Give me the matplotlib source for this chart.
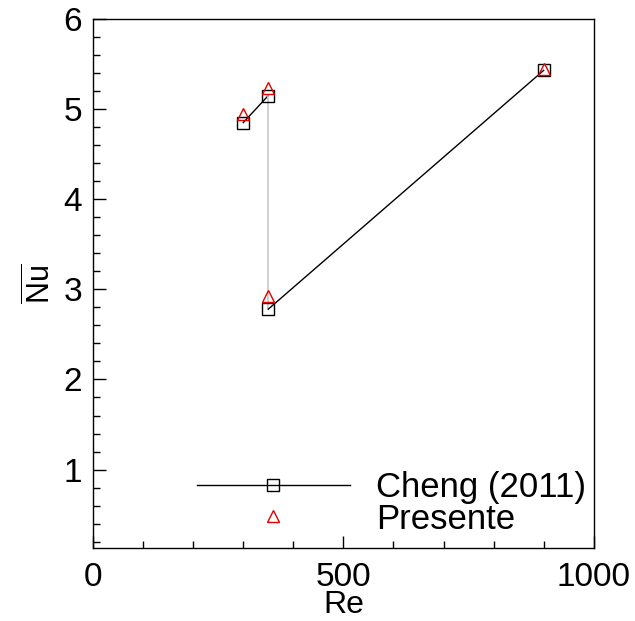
import matplotlib
matplotlib.use("Agg")
import matplotlib.pyplot as plt
from matplotlib.ticker import MultipleLocator
from matplotlib.lines import Line2D

# data
re_cheng = [300, 350, 350, 900]
nu_cheng = [4.85, 5.15, 2.78, 5.43]
re_pres = [300, 350, 350, 900]
nu_pres = [4.95, 5.23, 2.93, 5.45]

plt.rcParams['font.family'] = ['Liberation Sans', 'DejaVu Sans']
plt.rcParams['mathtext.fontset'] = 'custom'
plt.rcParams['mathtext.rm'] = 'Liberation Sans'

fig = plt.figure(figsize=(6.35, 6.21), dpi=100)
ax = fig.add_axes([0.1465, 0.1176, 0.7885, 0.8518])

# Cheng curve: the jump segment is drawn faint in the original
ax.plot(re_cheng[:2], nu_cheng[:2], color='k', lw=1)
ax.plot(re_cheng[1:3], nu_cheng[1:3], color='#c8c8c8', lw=1.2)
ax.plot(re_cheng[2:], nu_cheng[2:], color='k', lw=1)
ax.plot(re_cheng, nu_cheng, ls='none', marker='s', ms=9, mfc='none',
        mec='k', mew=1)
ax.plot(re_pres, nu_pres, ls='none', marker='^', ms=9, mfc='none',
        mec='#e00000', mew=1)

ax.set_xlim(0, 1000)
ax.set_ylim(0.13, 6)
ax.xaxis.set_major_locator(MultipleLocator(500))
ax.xaxis.set_minor_locator(MultipleLocator(100))
ax.yaxis.set_major_locator(MultipleLocator(1))
ax.yaxis.set_minor_locator(MultipleLocator(0.2))
ax.tick_params(which='both', direction='in', top=False, right=False,
               labelsize=24, width=1)
ax.tick_params(which='major', length=9)
ax.tick_params(which='minor', length=5)
ax.tick_params(axis='x', pad=10)
ax.tick_params(axis='y', pad=8)
for s in ax.spines.values():
    s.set_linewidth(1)

ax.set_xlabel('Re', fontsize=23, labelpad=-2)
ax.set_ylabel(r'$\overline{\mathrm{Nu}}$', fontsize=22, labelpad=4)

handles = [
    Line2D([], [], color='k', lw=1, marker='s', ms=9, mfc='none', mec='k'),
    Line2D([], [], ls='none', marker='^', ms=9, mfc='none', mec='#e00000'),
]
ax.legend(handles, ['Cheng (2011)', 'Presente'], loc='lower left',
          bbox_to_anchor=(0.166, -0.016), frameon=False, fontsize=25,
          handlelength=4.4, handletextpad=0.75, labelspacing=-0.05,
          borderaxespad=0.2)

fig.savefig('out.png', dpi=100)
